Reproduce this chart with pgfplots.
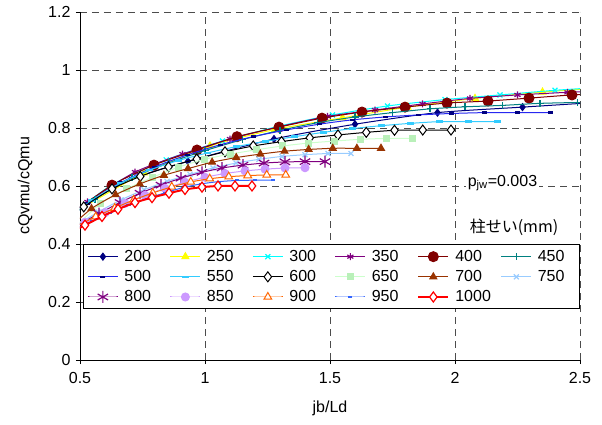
\documentclass[border=0pt]{standalone}
\usepackage{fontspec}
\setmainfont{Liberation Sans}
\newfontfamily\jp{Noto Sans CJK JP}
\usepackage{pgfplots}
\pgfplotsset{compat=1.18}
\definecolor{c200}{RGB}{0,0,128}
\definecolor{c250}{RGB}{255,255,0}
\definecolor{c300}{RGB}{0,255,255}
\definecolor{c350}{RGB}{128,0,128}
\definecolor{c400}{RGB}{128,0,0}
\definecolor{c450}{RGB}{0,128,128}
\definecolor{c500}{RGB}{40,40,240}
\definecolor{c550}{RGB}{51,204,255}
\definecolor{c600}{RGB}{0,0,0}
\definecolor{c650}{RGB}{204,255,204}
\definecolor{c650m}{RGB}{185,240,185}
\definecolor{c700}{RGB}{153,51,0}
\definecolor{c750}{RGB}{153,204,255}
\definecolor{c800}{RGB}{128,0,128}
\definecolor{c850}{RGB}{204,153,255}
\definecolor{c900}{RGB}{255,102,0}
\definecolor{c950}{RGB}{51,102,255}
\definecolor{c1000}{RGB}{255,0,0}
\newcommand{\fs}{\fontsize{16bp}{19bp}\selectfont}
\begin{document}
\begin{tikzpicture}
\useasboundingbox (-80bp,-65bp) rectangle (522bp,360bp);
\begin{axis}[
  at={(0,0)}, anchor=south west,
  scale only axis, width=500bp, height=348bp,
  xmin=0.5, xmax=2.5, ymin=0, ymax=1.2,
  xtick={0.5,1,1.5,2,2.5}, ytick={0,0.2,0.4,0.6,0.8,1,1.2},
  axis x line*=bottom, axis y line*=left,
  axis line style={line width=0.8bp},
  tick style={line width=0.8bp, black},
  major tick length=4bp, tick align=outside,
  grid=major,
  major grid style={line width=0.8bp, dash pattern=on 7bp off 5bp, black!70},
  /pgf/number format/assume math mode=true,
  tick label style={font=\fs},
  xticklabel style={yshift=-5bp},
  yticklabel style={xshift=-2bp},
  label style={font=\fs},
  xlabel={jb/Ld}, ylabel={cQvmu/cQmu},
  xlabel style={yshift=-10bp},
  ylabel style={yshift=9bp},
  clip marker paths=true,
  every axis plot/.append style={line width=1bp, smooth, tension=0.4},
  legend columns=6,
  legend cell align=left,
  legend style={at={(0.006,0.332)}, anchor=north west, draw=black, line width=0.8bp, fill=white,
    font=\fs, inner xsep=4bp, inner ysep=3.5bp, row sep=3.5bp,
    /tikz/every odd column/.append style={column sep=4bp},
    /tikz/every even column/.append style={column sep=8bp}},
  legend image code/.code={\draw[mark repeat=2,mark phase=2] plot coordinates {(0bp,0bp) (15bp,0bp) (30bp,0bp)};},
]
\addplot[c200, mark=diamond*, mark size=3.5bp, mark options={solid, fill=c200}] coordinates {(0.30,0.40) (0.62,0.595) (0.932,0.685) (1.276,0.762) (1.60,0.813) (1.93,0.853) (2.27,0.872) (2.60,0.89)};
\addlegendentry{\makebox[35.5bp][l]{200}}
\addplot[c250, mark=triangle*, mark size=4bp, mark options={solid, fill=c250}] coordinates {(0.49,0.515) (0.756,0.645) (1.02,0.738) (1.28,0.795) (1.55,0.835) (1.81,0.872) (2.08,0.902) (2.35,0.924) (2.61,0.94)};
\addlegendentry{\makebox[35.5bp][l]{250}}
\addplot[c300, mark=x, mark size=3.5bp, mark options={solid, line width=1.2bp}] coordinates {(0.396,0.451) (0.62,0.60) (0.845,0.69) (1.07,0.755) (1.29,0.805) (1.51,0.845) (1.73,0.876) (1.96,0.898) (2.18,0.914) (2.40,0.93) (2.62,0.942)};
\addlegendentry{\makebox[35.5bp][l]{300}}
\addplot[c350, mark=asterisk, mark size=3.5bp, mark options={solid, line width=1.2bp}] coordinates {(0.338,0.42) (0.53,0.545) (0.72,0.648) (0.91,0.71) (1.10,0.762) (1.30,0.805) (1.49,0.84) (1.68,0.862) (1.87,0.883) (2.06,0.902) (2.25,0.914) (2.45,0.923) (2.64,0.93)};
\addlegendentry{\makebox[35.5bp][l]{350}}
\addplot[c400, mark=*, mark size=5bp, mark options={solid, fill=c400}] coordinates {(0.46,0.50) (0.628,0.603) (0.796,0.672) (0.968,0.724) (1.128,0.77) (1.296,0.803) (1.468,0.834) (1.628,0.855) (1.8,0.872) (1.968,0.886) (2.132,0.893) (2.296,0.903) (2.468,0.914) (2.63,0.92)};
\addlegendentry{\makebox[35.5bp][l]{400}}
\addplot[c450, mark=+, mark size=3.5bp, mark options={solid, line width=1.2bp}] coordinates {(0.41,0.46) (0.56,0.555) (0.708,0.628) (0.856,0.68) (1.0,0.722) (1.15,0.76) (1.30,0.792) (1.45,0.818) (1.60,0.838) (1.75,0.853) (1.90,0.866) (2.04,0.873) (2.19,0.878) (2.34,0.885) (2.49,0.888)};
\addlegendentry{\makebox[35.5bp][l]{450}}
\addplot[c500, mark=-, mark size=2.5bp, mark options={solid, line width=2.5bp, c200}] coordinates {(0.40,0.45) (0.532,0.54) (0.664,0.612) (0.796,0.665) (0.928,0.707) (1.06,0.742) (1.192,0.77) (1.324,0.793) (1.456,0.813) (1.588,0.828) (1.72,0.838) (1.852,0.845) (1.984,0.85) (2.116,0.853) (2.248,0.853) (2.38,0.853)};
\addlegendentry{\makebox[35.5bp][l]{500}}
\addplot[c550, mark=-, mark size=3.5bp, mark options={solid, line width=2.5bp}] coordinates {(0.43,0.47) (0.546,0.55) (0.662,0.61) (0.778,0.655) (0.894,0.688) (1.01,0.714) (1.126,0.736) (1.242,0.754) (1.358,0.77) (1.474,0.785) (1.59,0.798) (1.706,0.808) (1.822,0.816) (1.938,0.822) (2.054,0.822) (2.17,0.822)};
\addlegendentry{\makebox[35.5bp][l]{550}}
\addplot[c600, mark=diamond*, mark size=5bp, mark options={solid, fill=white}] coordinates {(0.402,0.445) (0.515,0.528) (0.628,0.59) (0.741,0.633) (0.854,0.666) (0.967,0.693) (1.080,0.718) (1.193,0.738) (1.306,0.753) (1.419,0.766) (1.532,0.776) (1.645,0.785) (1.758,0.792) (1.871,0.793) (1.984,0.793)};
\addlegendentry{\makebox[35.5bp][l]{600}}
\addplot[c650, mark=square*, mark size=3bp, mark options={solid, draw=c650m, fill=c650m}] coordinates {(0.478,0.455) (0.582,0.54) (0.686,0.59) (0.79,0.63) (0.894,0.665) (0.998,0.692) (1.102,0.71) (1.206,0.725) (1.31,0.738) (1.414,0.748) (1.518,0.755) (1.622,0.761) (1.726,0.764) (1.83,0.764)};
\addlegendentry{\makebox[35.5bp][l]{650}}
\addplot[c700, mark=triangle*, mark size=4bp, mark options={solid, fill=c700}] coordinates {(0.4495,0.45) (0.546,0.522) (0.6425,0.57) (0.739,0.607) (0.8355,0.637) (0.932,0.66) (1.0285,0.682) (1.125,0.698) (1.2215,0.71) (1.318,0.72) (1.4145,0.726) (1.511,0.73) (1.6075,0.73) (1.704,0.73)};
\addlegendentry{\makebox[35.5bp][l]{700}}
\addplot[c750, mark=x, mark size=3.5bp, mark options={solid, line width=1.2bp}] coordinates {(0.48,0.462) (0.572,0.51) (0.664,0.552) (0.756,0.587) (0.848,0.616) (0.94,0.64) (1.032,0.662) (1.124,0.679) (1.216,0.692) (1.308,0.702) (1.40,0.708) (1.492,0.712) (1.584,0.712)};
\addlegendentry{\makebox[35.5bp][l]{750}}
\addplot[c800, mark=asterisk, mark size=6bp, mark options={solid, line width=1.2bp}] coordinates {(0.41,0.42) (0.492,0.465) (0.576,0.505) (0.66,0.543) (0.74,0.575) (0.824,0.603) (0.904,0.627) (0.988,0.647) (1.068,0.662) (1.152,0.672) (1.236,0.679) (1.32,0.683) (1.40,0.684) (1.48,0.684)};
\addlegendentry{\makebox[35.5bp][l]{800}}
\addplot[c850, mark=*, mark size=4bp, mark options={solid, fill=c850}] coordinates {(0.44,0.44) (0.52,0.475) (0.60,0.508) (0.68,0.54) (0.76,0.568) (0.84,0.592) (0.92,0.613) (1.00,0.63) (1.08,0.643) (1.16,0.652) (1.24,0.658) (1.32,0.662) (1.40,0.663)};
\addlegendentry{\makebox[35.5bp][l]{850}}
\addplot[c900, mark=triangle*, mark size=4.5bp, mark options={solid, fill=white}] coordinates {(0.411,0.43) (0.487,0.462) (0.563,0.494) (0.639,0.524) (0.715,0.552) (0.791,0.576) (0.867,0.597) (0.943,0.614) (1.019,0.625) (1.095,0.632) (1.171,0.636) (1.247,0.638) (1.323,0.638)};
\addlegendentry{\makebox[35.5bp][l]{900}}
\addplot[c950, mark=-, mark size=2bp, mark options={solid, line width=2bp}] coordinates {(0.406,0.415) (0.478,0.45) (0.55,0.48) (0.622,0.508) (0.694,0.534) (0.766,0.556) (0.838,0.576) (0.91,0.594) (0.982,0.607) (1.054,0.615) (1.126,0.619) (1.198,0.62) (1.27,0.62)};
\addlegendentry{\makebox[35.5bp][l]{950}}
\addplot[c1000, line width=2bp, mark=diamond*, mark size=5bp, mark options={solid, fill=white, line width=1.2bp}] coordinates {(0.453,0.435) (0.52,0.465) (0.588,0.495) (0.652,0.52) (0.72,0.543) (0.788,0.56) (0.856,0.575) (0.92,0.588) (0.988,0.596) (1.052,0.6) (1.12,0.6) (1.188,0.6)};
\addlegendentry{\makebox[35.5bp][l]{1000}}
\node[fill=white, inner sep=2bp, font=\fs] at (axis cs:2.19,0.61) {p\textsubscript{jw}=0.003};
\node[font=\fs] at (axis cs:2.236,0.456) {\jp 柱せい(mm)};
\end{axis}
\end{tikzpicture}
\end{document}
